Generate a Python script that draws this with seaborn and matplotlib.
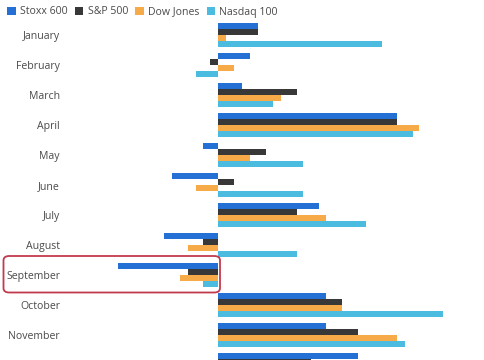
import matplotlib
matplotlib.use("Agg")
import matplotlib.pyplot as plt
import seaborn as sns
import pandas as pd
from matplotlib.patches import FancyBboxPatch, Patch

months = ["January", "February", "March", "April", "May", "June", "July",
          "August", "September", "October", "November", "December"]
series = ["Stoxx 600", "S&P 500", "Dow Jones", "Nasdaq 100"]
stoxx600 = [0.49, 0.39, 0.29, 2.23, -0.19, -0.58, 1.26, -0.68, -1.25, 1.35, 1.35, 1.74]
sp500 = [0.49, -0.10, 0.98, 2.23, 0.59, 0.20, 0.98, -0.19, -0.38, 1.55, 1.74, 1.16]
dowjones = [0.10, 0.20, 0.78, 2.51, 0.39, -0.28, 1.35, -0.38, -0.48, 1.55, 2.23, 1.30]
nasdaq100 = [2.04, -0.28, 0.68, 2.43, 1.06, 1.06, 1.85, 0.98, -0.19, 2.81, 2.33, 1.40]
colors = ["#2470d4", "#383838", "#f6aa48", "#4bbbdf"]

df = pd.DataFrame({
    "month": months * 4,
    "index": sum([[s] * len(months) for s in series], []),
    "value": stoxx600 + sp500 + dowjones + nasdaq100,
})

sns.set_theme(style="white")
plt.rcParams["font.family"] = ["Open Sans", "DejaVu Sans"]

W, H = 485, 360
fig = plt.figure(figsize=(W / 100, H / 100), dpi=100)
left_px = 65
ax = fig.add_axes([left_px / W, 0, 1 - left_px / W, 1])

sns.barplot(data=df, y="month", x="value", hue="index", order=months,
            hue_order=series, palette=colors, orient="h", width=0.8,
            linewidth=0, saturation=1, errorbar=None, legend=False, ax=ax)

scale = 80.0
zero_px = 218.3
ax.set_xlim((left_px - zero_px) / scale, (W - zero_px) / scale)
first_px = 35.3
step = 30.0
ax.set_ylim((H - first_px) / step, -first_px / step)

for s in ax.spines.values():
    s.set_visible(False)
ax.set_xticks([])
ax.set_xlabel("")
ax.set_ylabel("")
ax.tick_params(axis="y", length=0, pad=3.6, labelsize=7.6, labelcolor="#4a4a4a")

# legend
handles = [Patch(facecolor=c, edgecolor="none") for c in colors]
fig.legend(handles, series, loc="center left", bbox_to_anchor=(4 / W, 1 - 12 / H),
           ncol=4, frameon=False, fontsize=7.6, handlelength=0.8, handleheight=0.8,
           handletextpad=0.4, columnspacing=0.7, borderaxespad=0, borderpad=0.3,
           labelcolor="#4a4a4a")

# highlight box around September
box = FancyBboxPatch((3.5 / W, 1 - 292.5 / H), (220 - 3.5) / W, (292.5 - 256) / H,
                     boxstyle="round,pad=0,rounding_size=0.012",
                     transform=fig.transFigure, fill=False,
                     edgecolor="#c23a4e", linewidth=1.3, zorder=10)
fig.add_artist(box)

fig.savefig("out.png", dpi=100)
